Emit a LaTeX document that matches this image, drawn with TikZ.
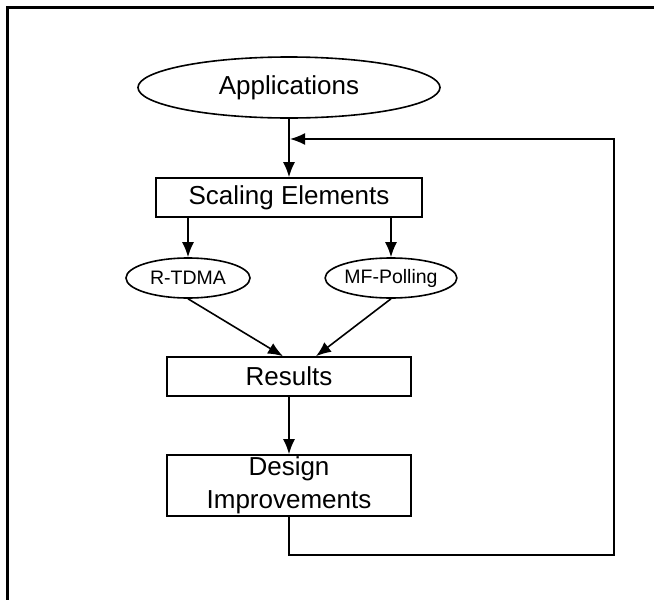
\documentclass[tikz,border=0pt]{standalone}
\usepackage{fontspec}
\setmainfont{Liberation Sans}
\usetikzlibrary{shapes.geometric,arrows.meta,calc}
\begin{document}
\begin{tikzpicture}[x=1pt,y=-1pt,
  box/.style={draw, line width=1.6pt, rectangle, inner sep=0pt, font=\fontsize{26}{33}\selectfont, align=center},
  bigell/.style={draw, line width=1.6pt, ellipse, inner sep=0pt, font=\fontsize{26}{30}\selectfont},
  smallell/.style={draw, line width=1.6pt, ellipse, inner sep=0pt, font=\fontsize{19.5}{22}\selectfont},
  arr/.style={line width=1.6pt, -{Latex[length=15pt,width=12pt]}},
  frame/.style={line width=3pt}
  ]
\useasboundingbox (0,0) rectangle (654,600);
\draw[frame] (654,7) -- (7,7) -- (7,600);

\node[bigell, minimum width=302pt, minimum height=61pt] (app) at (289,87.5) {Applications};
\node[box, minimum width=266pt, minimum height=39pt] (scale) at (289,197.5) {Scaling Elements};
\node[smallell, minimum width=124pt, minimum height=40pt] (rt) at (188,278) {R-TDMA};
\node[smallell, minimum width=123pt, minimum height=40pt] (mf) at (391,278) {MF-Polling};
\node[box, minimum width=244pt, minimum height=39pt] (res) at (289,376.5) {Results};
\node[box, minimum width=244pt, minimum height=61pt] (des) at (289,485.5) {Design\\Improvements};

\coordinate (fbA) at (614,555);
\coordinate (fbB) at (614,139);
\coordinate (fbEnd) at (290,139);

\draw[arr] (app.south) -- (scale.north);
\draw[arr] (rt.north |- scale.south) -- (rt.north);
\draw[arr] (mf.north |- scale.south) -- (mf.north);
\draw[arr] (rt.south) -- ($(res.north)+(-6,0)$);
\draw[arr] (mf.south) -- ($(res.north)+(27,0)$);
\draw[arr] (res.south) -- (des.north);
\draw[arr] (des.south) |- (fbA) -- (fbB) -- (fbEnd);
\end{tikzpicture}
\end{document}
